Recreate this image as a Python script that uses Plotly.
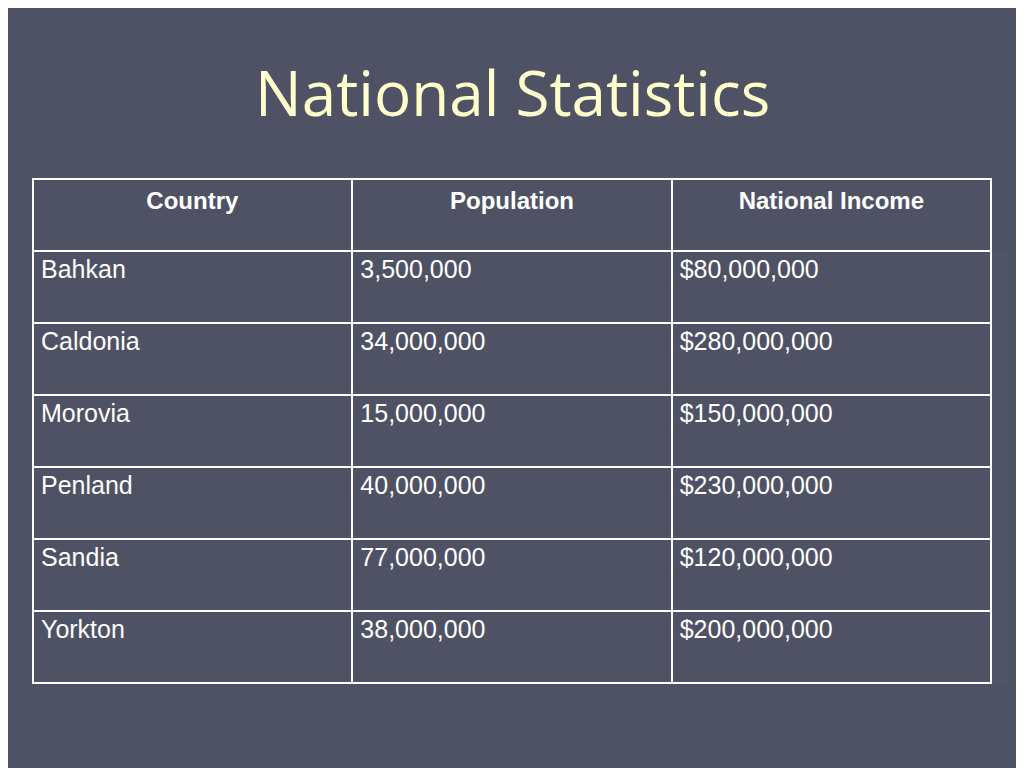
import plotly.graph_objects as go

headers = ["Country", "Population", "National Income"]
countries = ["Bahkan", "Caldonia", "Morovia", "Penland", "Sandia", "Yorkton"]
population = ["3,500,000", "34,000,000", "15,000,000", "40,000,000", "77,000,000", "38,000,000"]
income = ["$80,000,000", "$280,000,000", "$150,000,000", "$230,000,000", "$120,000,000", "$200,000,000"]

W, H, O = 1016, 760, 8
fig = go.Figure(go.Table(
    domain=dict(x=[(33-O)/W, (991-O)/W], y=[1-(684-O)/H, 1-(179-O)/H]),
    columnwidth=[1, 1, 1],
    header=dict(values=["<b>%s</b>" % h for h in headers], align="center", height=72,
                fill_color="rgba(0,0,0,0)", line=dict(color="white", width=2),
                font=dict(family="Liberation Sans", size=24, color="white")),
    cells=dict(values=[countries, population, income], align="left", height=72,
               fill_color="rgba(0,0,0,0)", line=dict(color="white", width=2),
               font=dict(family="Liberation Sans", size=25, color="white")),
))
fig.update_layout(
    width=W, height=H, margin=dict(l=0, r=0, t=0, b=0),
    paper_bgcolor="#4f5264", plot_bgcolor="#4f5264",
    annotations=[dict(text="National Statistics", x=(512-O)/W, y=1-(92-O)/H, xref="paper", yref="paper",
                      xanchor="center", yanchor="middle",
                      showarrow=False, font=dict(family="Open Sans", size=62, color="#ffffcc"))],
)
fig.write_html("out.html")
